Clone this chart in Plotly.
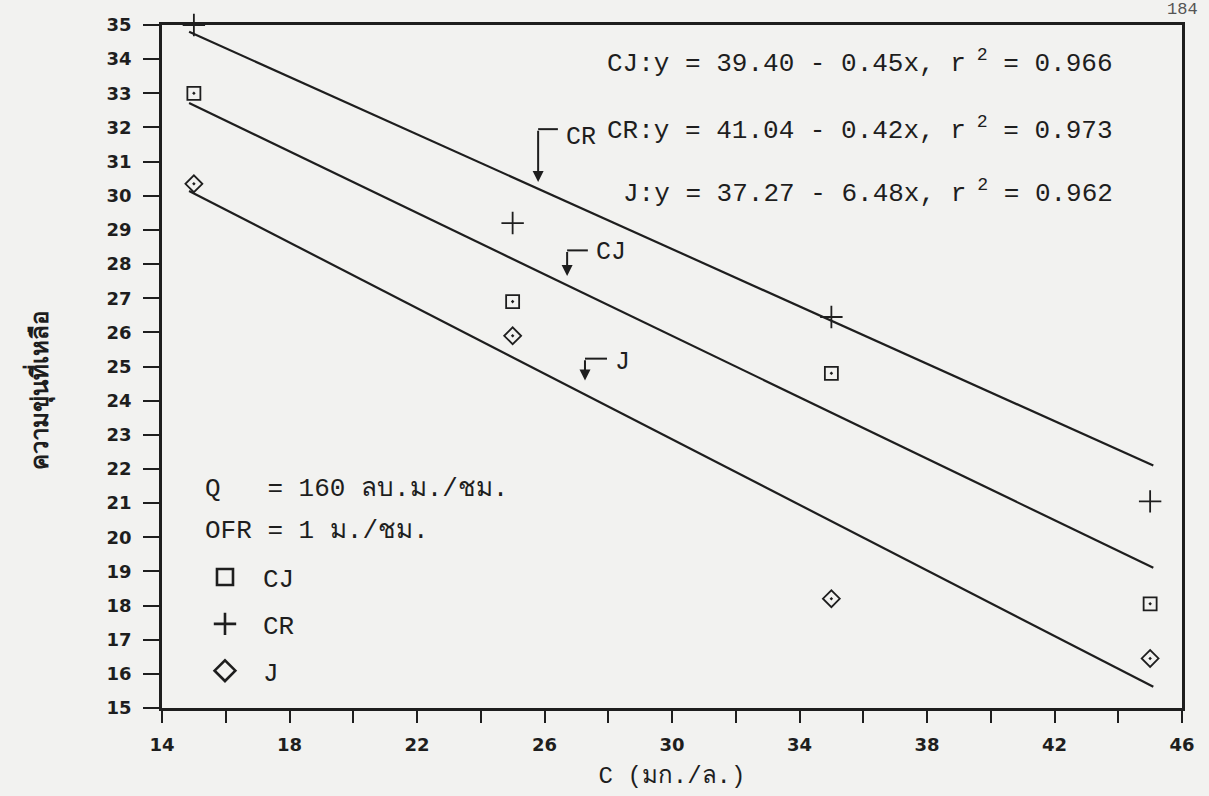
import plotly.graph_objects as go

# Measured turbidity at each concentration
conc = [15, 25, 35, 45]
cj_vals = [33.0, 26.9, 24.8, 18.05]
cr_vals = [35.0, 29.2, 26.45, 21.05]
j_vals = [30.35, 25.9, 18.2, 16.45]

# Regression lines: intercept and slope per series
series_names = ["CJ", "CR", "J"]
fit_intercepts = [39.40, 41.04, 37.27]
fit_slopes = [0.45, 0.42, 0.48]
fit_x = [14.85, 45.1]

equation_texts = [
    "CJ:y = 39.40 - 0.45x, r<sup> 2</sup> = 0.966",
    "CR:y = 41.04 - 0.42x, r<sup> 2</sup> = 0.973",
    "J:y = 37.27 - 6.48x, r<sup> 2</sup> = 0.962",
]

x_tick_vals = list(range(14, 47, 2))
x_tick_labels = [str(v) if (v - 14) % 4 == 0 else "" for v in x_tick_vals]
y_tick_vals = list(range(15, 36))
y_tick_labels = [str(v) for v in y_tick_vals]

INK = "#1e1e1e"
PAPER = "#f2f2f0"
MONO = "Liberation Mono"

fig = go.Figure()

# fitted lines
for a, b in zip(fit_intercepts, fit_slopes):
    fig.add_trace(go.Scatter(
        x=fit_x, y=[a - b * x for x in fit_x], mode="lines",
        line=dict(color=INK, width=2.2), showlegend=False, hoverinfo="skip"))

# data markers
marker_specs = [
    (cj_vals, "square-open-dot", 13, "square-open"),
    (cr_vals, "cross-thin-open", 16, "cross-thin-open"),
    (j_vals, "diamond-open-dot", 13, "diamond-open"),
]
for name, (vals, sym, size, legsym) in zip(series_names, marker_specs):
    fig.add_trace(go.Scatter(
        x=conc, y=vals, mode="markers", showlegend=False, cliponaxis=False,
        marker=dict(symbol=sym, size=size, color=INK, line=dict(width=1.8, color=INK))))
    fig.add_trace(go.Scatter(
        x=[None], y=[None], mode="markers", name=name, legendgroup=name,
        marker=dict(symbol=legsym, size=17, color=INK, line=dict(width=2.6, color=INK))))

# equation block
eq_left = [0.434, 0.434, 0.45]
eq_y = [0.946, 0.847, 0.756]
for txt, ex, ey in zip(equation_texts, eq_left, eq_y):
    fig.add_annotation(x=ex, y=ey, xref="paper", yref="paper", text=txt,
                       showarrow=False, xanchor="left", yanchor="middle",
                       font=dict(family=MONO, size=26, color=INK))

# bent pointer arrows naming each line
arrow_x = [26.71, 25.80, 27.27]
arrow_top = [28.40, 31.95, 25.23]
arrow_gap = [0.27, 0.2, 0.41]
arrow_run = [0.65, 0.62, 0.69]
label_drop = [0.06, 0.25, 0.12]
for name, a, b, ax_, top, gap, run, drop in zip(series_names, fit_intercepts, fit_slopes,
                                               arrow_x, arrow_top, arrow_gap, arrow_run,
                                               label_drop):
    tip = a - b * ax_ + gap
    fig.add_annotation(x=ax_, y=tip, ax=ax_, ay=top, xref="x", yref="y",
                       axref="x", ayref="y", text="", showarrow=True,
                       arrowhead=2, arrowsize=1.1, arrowwidth=2, arrowcolor=INK)
    fig.add_shape(type="line", x0=ax_, x1=ax_ + run, y0=top, y1=top,
                  xref="x", yref="y", line=dict(color=INK, width=2))
    fig.add_annotation(x=ax_ + run + 0.2, y=top - drop, xref="x", yref="y",
                       text=name, showarrow=False, xanchor="left", yanchor="middle",
                       font=dict(family=MONO, size=25, color=INK))

# operating conditions
fig.add_annotation(x=0.040, y=0.321, xref="paper", yref="paper",
                   text="Q\u00a0\u00a0\u00a0= 160 ลบ.ม./ชม.", showarrow=False,
                   xanchor="left", yanchor="middle",
                   font=dict(family=MONO, size=26, color=INK))
fig.add_annotation(x=0.040, y=0.259, xref="paper", yref="paper",
                   text="OFR = 1 ม./ชม.", showarrow=False,
                   xanchor="left", yanchor="middle",
                   font=dict(family=MONO, size=26, color=INK))

# y-axis title
fig.add_annotation(x=-0.12, y=0.465, xref="paper", yref="paper",
                   text="ความขุ่นที่เหลือ", textangle=-90, showarrow=False,
                   xanchor="center", yanchor="middle",
                   font=dict(family="Noto Sans, DejaVu Sans", size=24, color=INK,
                             weight="bold"))

# page number
fig.add_annotation(x=1.018, y=1.022, xref="paper", yref="paper", text="184",
                   showarrow=False, xanchor="right", yanchor="middle",
                   font=dict(family=MONO, size=17, color="#555"))

axis_common = dict(showline=True, linecolor=INK, linewidth=2.5, mirror=True,
                   showgrid=False, zeroline=False, ticks="outside",
                   tickcolor=INK, tickwidth=2,
                   tickfont=dict(family="DejaVu Sans", size=18, color=INK,
                                 weight="bold"))

fig.update_xaxes(range=[14, 46], tickmode="array", tickvals=x_tick_vals,
                 ticktext=x_tick_labels, ticklen=12, ticklabelstandoff=7,
                 title=dict(text="C (มก./ล.)", standoff=12,
                            font=dict(family=MONO, size=24, color=INK)),
                 **axis_common)
fig.update_yaxes(range=[15, 35], tickmode="array", tickvals=y_tick_vals,
                 ticktext=y_tick_labels, ticklen=16, ticklabelstandoff=8,
                 **axis_common)

fig.update_layout(
    width=1209, height=796,
    margin=dict(l=162, r=27, t=25, b=83),
    paper_bgcolor=PAPER, plot_bgcolor=PAPER,
    legend=dict(x=0.0245, y=0.226, xanchor="left", yanchor="top",
                bgcolor="rgba(0,0,0,0)", itemwidth=66, tracegroupgap=10,
                traceorder="grouped",
                font=dict(family=MONO, size=26, color=INK)),
)

fig.write_html("out.html")
